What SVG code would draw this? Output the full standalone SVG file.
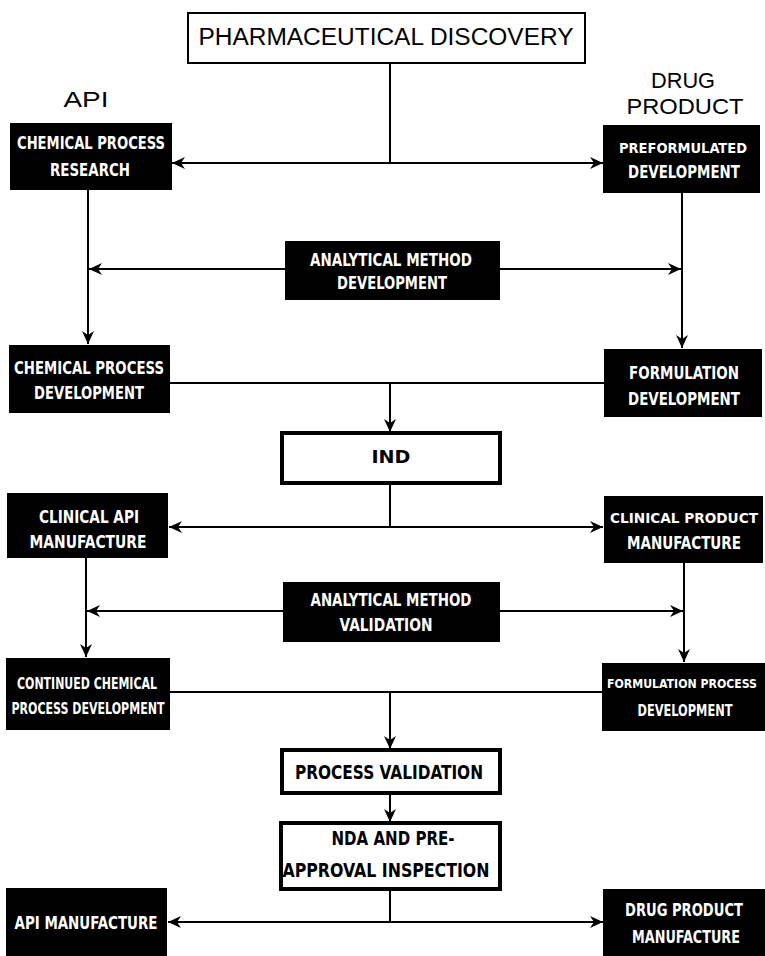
<svg xmlns="http://www.w3.org/2000/svg" width="765" height="956" viewBox="0 0 765 956">
<style>
  .bg { fill: #ffffff; }
  .blk { fill: #000000; }
  .wbox { fill: #ffffff; stroke: #000000; stroke-width: 4; }
  .thin { fill: #ffffff; stroke: #000000; stroke-width: 2; }
  .wt { fill: #ffffff; font-family: "Liberation Sans Narrow", "DejaVu Sans Condensed", "Liberation Sans", sans-serif; font-weight: bold; font-size: 17.5px; text-anchor: middle; }
  .wt2 { fill: #ffffff; font-family: "Liberation Sans Narrow", "DejaVu Sans Condensed", "Liberation Sans", sans-serif; font-weight: bold; font-size: 16px; text-anchor: middle; }
  .tight { font-size: 14.5px; }
  .tighter { font-size: 12px; }
  .bt { fill: #000000; font-family: "Liberation Sans Narrow", "DejaVu Sans Condensed", "Liberation Sans", sans-serif; font-weight: bold; font-size: 20px; text-anchor: middle; }
  .lbl { fill: #000000; font-family: "Liberation Sans", "Arial", sans-serif; font-size: 22px; text-anchor: middle; }
  .ln { fill: none; stroke: #000000; stroke-width: 2; }
  .arr { marker-end: url(#ah); }
</style>
<defs>
  <marker id="ah" markerUnits="userSpaceOnUse" markerWidth="14" markerHeight="12" refX="13" refY="6" orient="auto">
    <path d="M0,0 L13,6 L0,12 L4,6 Z" fill="#000000"/>
  </marker>
</defs>
<rect class="bg" x="0" y="0" width="765" height="956"/>

<g id="connectors">
  <path class="ln" d="M390,63 V163"/>
  <path class="ln arr" d="M390,163 H172"/>
  <path class="ln arr" d="M390,163 H603"/>
  <path class="ln arr" d="M88,190 V344"/>
  <path class="ln arr" d="M682,193 V348"/>
  <path class="ln arr" d="M285,269 H89"/>
  <path class="ln arr" d="M500,269 H681"/>
  <path class="ln" d="M170,383 H604"/>
  <path class="ln arr" d="M390,383 V432"/>
  <path class="ln" d="M390,483 V527"/>
  <path class="ln arr" d="M390,527 H169"/>
  <path class="ln arr" d="M390,527 H603"/>
  <path class="ln arr" d="M86,558 V657"/>
  <path class="ln arr" d="M684,563 V662"/>
  <path class="ln arr" d="M283,611 H87"/>
  <path class="ln arr" d="M500,611 H683"/>
  <path class="ln" d="M170,692 H602"/>
  <path class="ln arr" d="M390,692 V749"/>
  <path class="ln arr" d="M390,793 V822"/>
  <path class="ln" d="M390,889 V922"/>
  <path class="ln arr" d="M390,922 H168"/>
  <path class="ln arr" d="M390,922 H603"/>
</g>

<g id="discovery">
  <rect class="thin" x="188" y="13" width="397" height="50"/>
  <text class="lbl" x="386" y="45" style="font-size:23px" textLength="375" lengthAdjust="spacingAndGlyphs">PHARMACEUTICAL DISCOVERY</text>
</g>

<g id="label-api">
  <text class="lbl" x="86" y="107" textLength="45" lengthAdjust="spacingAndGlyphs">API</text>
</g>

<g id="label-drug-product">
  <text class="lbl" x="683" y="88" textLength="64" lengthAdjust="spacingAndGlyphs">DRUG</text>
  <text class="lbl" x="685" y="114" textLength="117" lengthAdjust="spacingAndGlyphs">PRODUCT</text>
</g>

<g id="chem-research">
  <rect class="blk" x="10" y="123" width="162" height="67"/>
  <text class="wt" x="91" y="149" textLength="148" lengthAdjust="spacingAndGlyphs">CHEMICAL PROCESS</text>
  <text class="wt" x="90" y="176" textLength="80" lengthAdjust="spacingAndGlyphs">RESEARCH</text>
</g>

<g id="preformulated">
  <rect class="blk" x="603" y="125" width="157" height="68"/>
  <text class="wt tight" x="683" y="153" textLength="128" lengthAdjust="spacingAndGlyphs">PREFORMULATED</text>
  <text class="wt" x="684" y="178" textLength="112" lengthAdjust="spacingAndGlyphs">DEVELOPMENT</text>
</g>

<g id="amd">
  <rect class="blk" x="285" y="241" width="215" height="59"/>
  <text class="wt" x="391" y="266" textLength="162" lengthAdjust="spacingAndGlyphs">ANALYTICAL METHOD</text>
  <text class="wt" x="392" y="289" textLength="110" lengthAdjust="spacingAndGlyphs">DEVELOPMENT</text>
</g>

<g id="chem-dev">
  <rect class="blk" x="9" y="345" width="161" height="68"/>
  <text class="wt" x="89" y="374" textLength="150" lengthAdjust="spacingAndGlyphs">CHEMICAL PROCESS</text>
  <text class="wt" x="89" y="399" textLength="110" lengthAdjust="spacingAndGlyphs">DEVELOPMENT</text>
</g>

<g id="form-dev">
  <rect class="blk" x="604" y="349" width="158" height="68"/>
  <text class="wt" x="684" y="379" textLength="110" lengthAdjust="spacingAndGlyphs">FORMULATION</text>
  <text class="wt" x="684" y="405" textLength="112" lengthAdjust="spacingAndGlyphs">DEVELOPMENT</text>
</g>

<g id="ind">
  <rect class="wbox" x="282" y="433" width="218" height="50"/>
  <text class="bt" x="391" y="463" style="font-size:17.5px" textLength="39" lengthAdjust="spacingAndGlyphs">IND</text>
</g>

<g id="clin-api">
  <rect class="blk" x="7" y="493" width="161" height="65"/>
  <text class="wt" x="89" y="523" textLength="100" lengthAdjust="spacingAndGlyphs">CLINICAL API</text>
  <text class="wt" x="88" y="548" textLength="117" lengthAdjust="spacingAndGlyphs">MANUFACTURE</text>
</g>

<g id="clin-product">
  <rect class="blk" x="604" y="496" width="159" height="67"/>
  <text class="wt tight" x="684" y="523" textLength="148" lengthAdjust="spacingAndGlyphs">CLINICAL PRODUCT</text>
  <text class="wt" x="684" y="549" textLength="114" lengthAdjust="spacingAndGlyphs">MANUFACTURE</text>
</g>

<g id="amv">
  <rect class="blk" x="283" y="582" width="217" height="60"/>
  <text class="wt" x="391" y="606" textLength="161" lengthAdjust="spacingAndGlyphs">ANALYTICAL METHOD</text>
  <text class="wt" x="386" y="631" textLength="93" lengthAdjust="spacingAndGlyphs">VALIDATION</text>
</g>

<g id="cont-chem">
  <rect class="blk" x="6" y="658" width="164" height="72"/>
  <text class="wt2" x="87" y="689" textLength="140" lengthAdjust="spacingAndGlyphs">CONTINUED CHEMICAL</text>
  <text class="wt2" x="88" y="714" textLength="153" lengthAdjust="spacingAndGlyphs">PROCESS DEVELOPMENT</text>
</g>

<g id="form-process">
  <rect class="blk" x="602" y="663" width="163" height="68"/>
  <text class="wt2 tighter" x="682" y="688" textLength="150" lengthAdjust="spacingAndGlyphs">FORMULATION PROCESS</text>
  <text class="wt2" x="685" y="716" textLength="95" lengthAdjust="spacingAndGlyphs">DEVELOPMENT</text>
</g>

<g id="process-validation">
  <rect class="wbox" x="282" y="750" width="218" height="43"/>
  <text class="bt" x="389" y="779" textLength="188" lengthAdjust="spacingAndGlyphs">PROCESS VALIDATION</text>
</g>

<g id="nda">
  <rect class="wbox" x="281" y="823" width="219" height="66"/>
  <text class="bt" x="393" y="845" textLength="123" lengthAdjust="spacingAndGlyphs">NDA AND PRE-</text>
  <text class="bt" x="386" y="877" textLength="207" lengthAdjust="spacingAndGlyphs">APPROVAL INSPECTION</text>
</g>

<g id="api-manufacture">
  <rect class="blk" x="6" y="888" width="161" height="68"/>
  <text class="wt" x="86" y="929" textLength="143" lengthAdjust="spacingAndGlyphs">API MANUFACTURE</text>
</g>

<g id="dp-manufacture">
  <rect class="blk" x="603" y="889" width="162" height="67"/>
  <text class="wt" x="684" y="916" textLength="118" lengthAdjust="spacingAndGlyphs">DRUG PRODUCT</text>
  <text class="wt" x="686" y="943" textLength="108" lengthAdjust="spacingAndGlyphs">MANUFACTURE</text>
</g>
</svg>
